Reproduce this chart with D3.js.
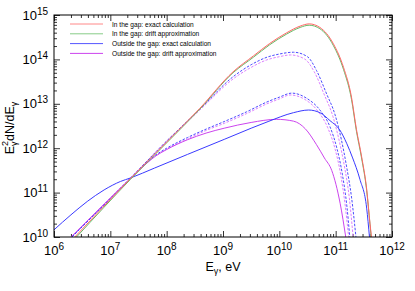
<!DOCTYPE html>
<html>
<head>
<meta charset="utf-8">
<script src="https://cdn.jsdelivr.net/npm/d3@7"></script>
<style>
  body { margin: 0; background: #fff; }
  text { font-family: "Liberation Sans", Arial, sans-serif; fill: #000; }
</style>
</head>
<body>
<div id="chart_div"></div>
<script>
// E_gamma [eV], E^2 dN/dE values
const gapExact = [
    [2.34e6, 1e10], [2.29e7, 2.09e11], [1e8, 1.38e12], [3.89e8, 7.94e12], [1.51e9, 5.25e13],
    [3.47e9, 1.20e14], [6.76e9, 2.29e14], [1.35e10, 3.98e14], [2.34e10, 5.62e14], [3.39e10, 6.31e14],
    [5.25e10, 5.25e14], [9.12e10, 2.24e14], [1.38e11, 6.61e13], [1.91e11, 1.41e13], [2.34e11, 2.63e12],
    [2.88e11, 6.61e11], [3.55e11, 1.20e11], [4.07e11, 2.0e10], [4.32e11, 1e10]
];
const gapDrift = [
    [2.51e6, 1e10], [2.29e7, 2.0e11], [1e8, 1.32e12], [3.89e8, 7.59e12], [1.51e9, 5.01e13],
    [3.47e9, 1.12e14], [6.76e9, 2.14e14], [1.35e10, 3.72e14], [2.34e10, 5.25e14], [3.39e10, 5.89e14],
    [5.25e10, 4.90e14], [9.12e10, 2.04e14], [1.38e11, 5.89e13], [1.91e11, 1.26e13], [2.34e11, 2.40e12],
    [2.88e11, 6.03e11], [3.55e11, 1.12e11], [4.07e11, 1.91e10], [4.27e11, 1e10]
];
const outExactHi = [
    [2.09e6, 1e10], [2.29e7, 2.14e11], [1e8, 1.45e12], [3.89e8, 7.59e12], [1.51e9, 4.07e13],
    [3.16e9, 7.59e13], [6.03e9, 1.12e14], [1e10, 1.32e14], [1.78e10, 1.45e14], [3.16e10, 1.15e14],
    [4.57e10, 5.62e13], [6.92e10, 1.66e13], [9.77e10, 5.62e12], [1.26e11, 1.58e12], [1.58e11, 3.55e11],
    [1.91e11, 7.94e10], [2.29e11, 1e10]
];
const outDriftHi = [
    [2.0e6, 1e10], [2.29e7, 2.14e11], [1e8, 1.45e12], [3.89e8, 7.24e12], [1.51e9, 3.63e13],
    [3.16e9, 6.61e13], [6.03e9, 9.77e13], [1e10, 1.15e14], [1.58e10, 1.26e14], [2.82e10, 1.02e14],
    [4.17e10, 5.25e13], [6.31e10, 1.58e13], [8.91e10, 5.25e12], [1.15e11, 1.51e12], [1.45e11, 3.55e11],
    [1.74e11, 7.94e10], [2.04e11, 1e10]
];
const outExactLo = [
    [2.09e6, 1e10], [2.29e7, 2.09e11], [3.98e7, 4.17e11], [6.31e7, 6.92e11], [1e8, 1e12],
    [2.34e8, 1.74e12], [5.01e8, 2.69e12], [1.05e9, 3.98e12], [2.63e9, 6.61e12], [6.03e9, 1.10e13],
    [1e10, 1.41e13], [1.66e10, 1.74e13], [3.09e10, 1.32e13], [5.25e10, 7.24e12], [7.94e10, 3.02e12],
    [1.05e11, 1e12], [1.32e11, 2.51e11], [1.58e11, 5.01e10], [1.78e11, 1e10]
];
const outDriftLo = [
    [2.0e6, 1e10], [2.29e7, 2.09e11], [3.98e7, 4.07e11], [6.31e7, 6.61e11], [1e8, 9.55e11],
    [2.34e8, 1.62e12], [5.01e8, 2.51e12], [1.05e9, 3.63e12], [2.63e9, 6.03e12], [6.03e9, 1e13],
    [1e10, 1.29e13], [1.55e10, 1.58e13], [2.82e10, 1.26e13], [4.79e10, 6.92e12], [7.24e10, 2.88e12],
    [9.77e10, 9.55e11], [1.23e11, 2.51e11], [1.48e11, 5.01e10], [1.70e11, 1e10]
];
const outExact = [
    [1e6, 1.45e10], [2e6, 3.16e10], [3.89e6, 6.31e10], [7.76e6, 1.15e11], [1.51e7, 1.78e11],
    [2.29e7, 2.14e11], [6.03e7, 3.55e11], [2.34e8, 7.24e11], [1.05e9, 1.58e12], [3.16e9, 2.82e12],
    [6.31e9, 3.98e12], [1.78e10, 6.31e12], [3.31e10, 7.24e12], [5.25e10, 6.31e12], [7.94e10, 4.17e12],
    [1.17e11, 2.63e12], [1.58e11, 1.26e12], [2.0e11, 6.03e11], [2.69e11, 2.0e11], [3.55e11, 4.47e10],
    [3.98e11, 1e10]
];
const outDrift = [
    [2.0e6, 1e10], [2.29e7, 2.09e11], [3.98e7, 4.07e11], [6.31e7, 6.61e11], [1e8, 9.33e11],
    [2.34e8, 1.55e12], [5.01e8, 2.19e12], [1.05e9, 2.82e12], [3.16e9, 3.80e12], [8.91e9, 4.47e12],
    [1.78e10, 4.07e12], [2.88e10, 2.75e12], [4.57e10, 1.20e12], [6.31e10, 6.03e11], [8.51e10, 3.16e11],
    [1.20e11, 5.75e10], [1.51e11, 1e10]
];

const legendLabels = [
    "In the gap: exact calculation",
    "In the gap: drift approximation",
    "Outside the gap: exact calculation",
    "Outside the gap: drift approximation"
];
const xDecades = [6, 7, 8, 9, 10, 11, 12];
const yDecades = [10, 11, 12, 13, 14, 15];

const width = 415;
const height = 291;
const margin = { left: 54, right: 23, top: 15, bottom: 54 };

const x = d3.scaleLog()
    .domain([1e6, 1e12])
    .range([margin.left, width - margin.right]);

const y = d3.scaleLog()
    .domain([1e10, 1e15])
    .range([height - margin.bottom, margin.top]);

const svg = d3.select("#chart_div")
    .append("svg")
    .attr("width", width)
    .attr("height", height);

svg.append("clipPath")
    .attr("id", "clip")
    .append("rect")
    .attr("x", margin.left)
    .attr("y", margin.top)
    .attr("width", width - margin.left - margin.right)
    .attr("height", height - margin.top - margin.bottom);

// ticks: majors at decades, minors at 2..9
const isDecade = d => Number.isInteger(Math.round(Math.log10(d) * 1e6) / 1e6);
const xAll = x.ticks();
const xMajor = xAll.filter(isDecade);
const xMinor = xAll.filter(d => !isDecade(d));
const yAll = y.ticks();
const yMajor = yAll.filter(isDecade);
const yMinor = yAll.filter(d => !isDecade(d));

const tickAxis = (gen, tr, vals, size) => {
    const g = svg.append("g")
        .attr("transform", tr)
        .call(gen.tickValues(vals).tickSize(size).tickFormat(""));
    g.select(".domain").remove();
    g.selectAll("line").attr("stroke", "#000").attr("stroke-width", 0.8);
};

const bottomY = height - margin.bottom;
const rightX = width - margin.right;
tickAxis(d3.axisBottom(x), `translate(0,${bottomY})`, xMajor, -6);
tickAxis(d3.axisBottom(x), `translate(0,${bottomY})`, xMinor, -3);
tickAxis(d3.axisTop(x), `translate(0,${margin.top})`, xMajor, -6);
tickAxis(d3.axisTop(x), `translate(0,${margin.top})`, xMinor, -3);
tickAxis(d3.axisLeft(y), `translate(${margin.left},0)`, yMajor, -6);
tickAxis(d3.axisLeft(y), `translate(${margin.left},0)`, yMinor, -3);
tickAxis(d3.axisRight(y), `translate(${rightX},0)`, yMajor, -6);
tickAxis(d3.axisRight(y), `translate(${rightX},0)`, yMinor, -3);

// curves
const line = d3.line()
    .x(d => x(d[0]))
    .y(d => y(d[1]))
    .curve(d3.curveMonotoneX);

const series = [
    { data: outDriftLo, color: "#dd80ff", dash: "2.5,1.5" },
    { data: outExactLo, color: "#4a4aff", dash: "2.5,1.5" },
    { data: outDriftHi, color: "#dd80ff", dash: "2.5,1.5" },
    { data: outExactHi, color: "#4a4aff", dash: "2.5,1.5" },
    { data: outDrift, color: "#cc44ee", dash: null },
    { data: outExact, color: "#3a3aff", dash: null },
    { data: gapDrift, color: "#66bb66", dash: null },
    { data: gapExact, color: "#ff6666", dash: null }
];

svg.append("g")
    .attr("clip-path", "url(#clip)")
    .selectAll("path")
    .data(series)
    .enter()
    .append("path")
    .attr("d", d => line(d.data))
    .attr("fill", "none")
    .attr("stroke", d => d.color)
    .attr("stroke-width", 1)
    .attr("stroke-dasharray", d => d.dash);

// frame
svg.append("rect")
    .attr("x", margin.left)
    .attr("y", margin.top)
    .attr("width", width - margin.left - margin.right)
    .attr("height", height - margin.top - margin.bottom)
    .attr("fill", "none")
    .attr("stroke", "#000")
    .attr("stroke-width", 1);

// tick labels
const xl = svg.append("g")
    .selectAll("text")
    .data(xDecades)
    .enter()
    .append("text")
    .attr("x", d => x(Math.pow(10, d)))
    .attr("y", bottomY + 18)
    .attr("text-anchor", "middle")
    .attr("font-size", 13);
xl.append("tspan").text("10");
xl.append("tspan").attr("font-size", 10).attr("dy", -5).text(d => d);

const yl = svg.append("g")
    .selectAll("text")
    .data(yDecades)
    .enter()
    .append("text")
    .attr("x", margin.left - 6)
    .attr("y", d => y(Math.pow(10, d)) + 4.5)
    .attr("text-anchor", "end")
    .attr("font-size", 13);
yl.append("tspan").text("10");
yl.append("tspan").attr("font-size", 10).attr("dy", -5).text(d => d);

// axis titles
const xt = svg.append("text")
    .attr("x", (margin.left + rightX) / 2)
    .attr("y", 271)
    .attr("text-anchor", "middle")
    .attr("font-size", 12.5);
xt.append("tspan").text("E");
xt.append("tspan").attr("font-size", 9).attr("dy", 3).text("γ");
xt.append("tspan").attr("dy", -3).text(", eV");

const yt = svg.append("text")
    .attr("transform", `translate(14,${(margin.top + bottomY) / 2 + 2}) rotate(-90)`)
    .attr("text-anchor", "middle")
    .attr("font-size", 12.5);
yt.append("tspan").text("E");
yt.append("tspan").attr("font-size", 9).attr("dy", 3).text("γ");
yt.append("tspan").attr("font-size", 9).attr("dx", -4.5).attr("dy", -9).text("2");
yt.append("tspan").attr("dy", 6).text("dN/dE");
yt.append("tspan").attr("font-size", 9).attr("dy", 3).text("γ");

// legend
const legendColors = ["#ff8888", "#88cc88", "#5555ff", "#cc44ee"];
const legend = svg.append("g").attr("id", "legend");
legend.selectAll("line")
    .data(legendLabels)
    .enter()
    .append("line")
    .attr("x1", 70)
    .attr("x2", 103)
    .attr("y1", (d, i) => 24 + i * 9.8)
    .attr("y2", (d, i) => 24 + i * 9.8)
    .attr("stroke", (d, i) => legendColors[i])
    .attr("stroke-width", 1);
legend.selectAll("text")
    .data(legendLabels)
    .enter()
    .append("text")
    .attr("x", 112)
    .attr("y", (d, i) => 24 + i * 9.8 + 2.5)
    .attr("font-size", 6.6)
    .text(d => d);
</script>
</body>
</html>
